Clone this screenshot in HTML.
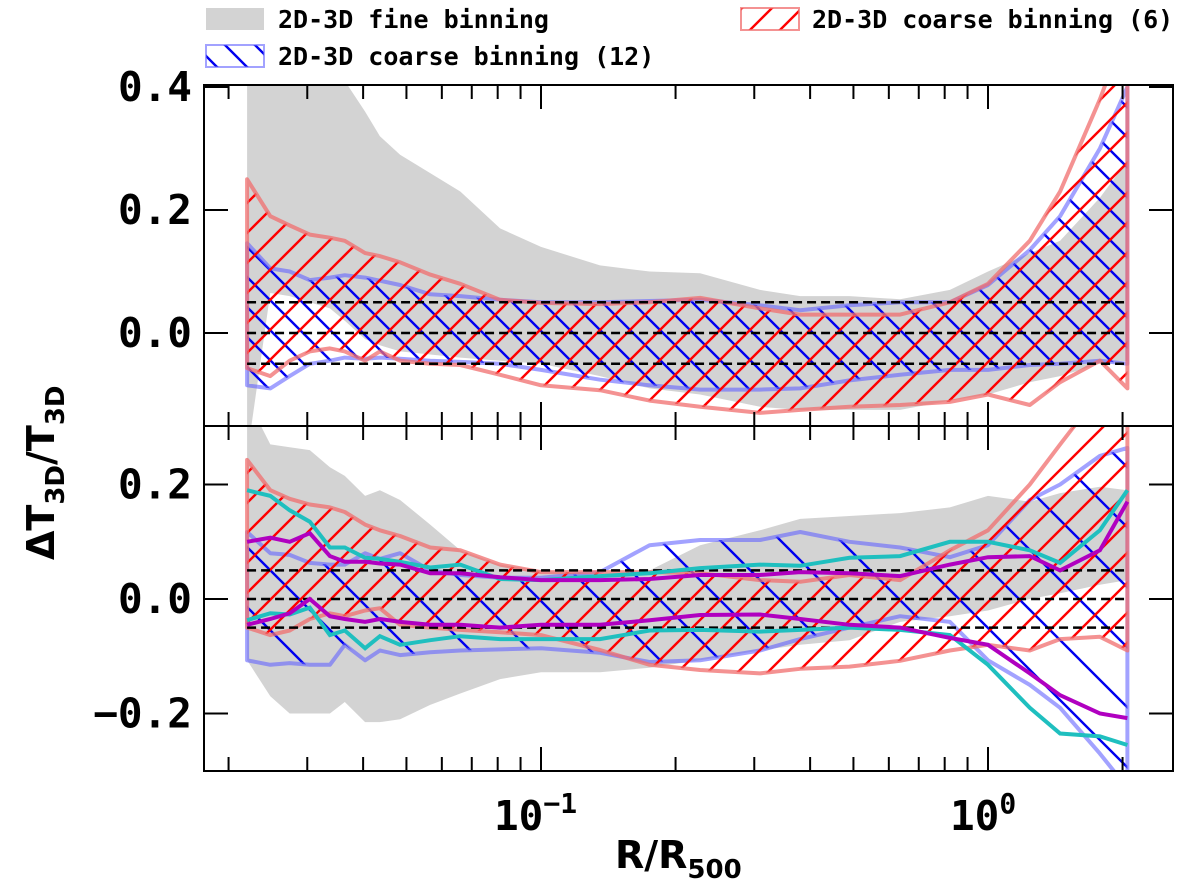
<!DOCTYPE html>
<html><head><meta charset="utf-8"><style>
body{margin:0;background:#fff;}
svg text{font-family:"DejaVu Sans Mono","Liberation Mono",monospace;font-weight:bold;}
</style></head><body>
<svg id="chart" width="1200" height="887" viewBox="0 0 1200 887" xmlns="http://www.w3.org/2000/svg">
<defs>
<pattern id="hr" patternUnits="userSpaceOnUse" width="30" height="30"><path d="M-5,5 L5,-5 M0,30 L30,0 M25,35 L35,25" stroke="#ff0000" stroke-width="2.4"/></pattern>
<pattern id="hb" patternUnits="userSpaceOnUse" width="30" height="30"><path d="M-5,25 L5,35 M0,0 L30,30 M25,-5 L35,5" stroke="#0000ee" stroke-width="2.4"/></pattern>
<pattern id="hb2" patternUnits="userSpaceOnUse" width="60" height="60"><path d="M-5,55 L5,65 M0,0 L60,60 M55,-5 L65,5" stroke="#0000ee" stroke-width="2.4"/></pattern>
<clipPath id="cTop"><rect x="204" y="85" width="969" height="341"/></clipPath>
<clipPath id="cBot"><rect x="204" y="427" width="969" height="344"/></clipPath>
</defs>
<g id="layer"></g>
</svg>
<script>
const R = [0.022,0.0248,0.0274,0.0304,0.0337,0.0364,0.0404,0.0436,0.0484,0.0565,0.066,0.081,0.1,0.1355,0.175,0.227,0.309,0.38,0.49,0.636,0.822,1.0,1.24,1.45,1.78,2.05];
// top panel
const fineTopUp = [0.45,0.45,0.45,0.45,0.45,0.41,0.36,0.32,0.29,0.26,0.23,0.17,0.14,0.11,0.10,0.097,0.07,0.06,0.06,0.055,0.07,0.1,0.13,0.15,0.22,0.28];
const fineTopLo = [-0.2,0.065,0.06,0.05,0.04,0.02,-0.01,-0.02,-0.03,-0.035,-0.04,-0.045,-0.05,-0.07,-0.09,-0.1,-0.12,-0.125,-0.125,-0.125,-0.11,-0.1,-0.08,-0.07,-0.05,-0.045];
const c6TopUp = [0.25,0.19,0.175,0.16,0.155,0.15,0.13,0.125,0.115,0.095,0.08,0.054,0.049,0.047,0.05,0.057,0.04,0.03,0.03,0.03,0.05,0.08,0.15,0.23,0.38,0.5];
const c6TopLo = [-0.057,-0.07,-0.045,-0.03,-0.025,-0.03,-0.045,-0.03,-0.045,-0.05,-0.052,-0.068,-0.085,-0.093,-0.11,-0.12,-0.13,-0.125,-0.12,-0.117,-0.112,-0.1,-0.117,-0.08,-0.045,-0.09];
const c12TopUp = [0.146,0.105,0.1,0.086,0.09,0.094,0.09,0.085,0.078,0.063,0.06,0.054,0.05,0.05,0.052,0.054,0.045,0.037,0.045,0.05,0.05,0.078,0.135,0.19,0.3,0.4];
const c12TopLo = [-0.085,-0.09,-0.07,-0.05,-0.045,-0.04,-0.042,-0.04,-0.042,-0.045,-0.047,-0.05,-0.06,-0.076,-0.085,-0.092,-0.092,-0.09,-0.077,-0.068,-0.06,-0.06,-0.052,-0.05,-0.045,-0.05];
// bottom panel
const fineBotUp = [0.35,0.27,0.265,0.26,0.23,0.215,0.18,0.19,0.173,0.13,0.085,0.06,0.05,0.042,0.05,0.094,0.12,0.14,0.145,0.15,0.16,0.18,0.17,0.185,0.196,0.19];
const fineBotLo = [-0.107,-0.17,-0.2,-0.2,-0.2,-0.18,-0.215,-0.215,-0.21,-0.185,-0.165,-0.14,-0.128,-0.128,-0.12,-0.107,-0.09,-0.08,-0.072,-0.04,-0.03,-0.02,0.0,0.01,0.025,0.033];
const c6BotUp = [0.243,0.19,0.175,0.165,0.16,0.152,0.13,0.12,0.11,0.09,0.085,0.06,0.047,0.047,0.047,0.045,0.033,0.03,0.042,0.033,0.085,0.12,0.2,0.27,0.36,0.42];
const c6BotLo = [-0.05,-0.063,-0.055,-0.035,-0.025,-0.03,-0.02,-0.016,-0.045,-0.05,-0.054,-0.058,-0.063,-0.089,-0.115,-0.124,-0.13,-0.122,-0.118,-0.108,-0.09,-0.08,-0.09,-0.07,-0.066,-0.09];
const c12BotUp = [0.117,0.08,0.077,0.063,0.06,0.06,0.08,0.07,0.08,0.05,0.042,0.037,0.037,0.047,0.094,0.103,0.103,0.117,0.1,0.09,0.073,0.094,0.173,0.2,0.25,0.264];
const c12BotLo = [-0.107,-0.115,-0.112,-0.115,-0.115,-0.08,-0.107,-0.09,-0.098,-0.093,-0.09,-0.088,-0.086,-0.094,-0.11,-0.107,-0.09,-0.07,-0.05,-0.03,-0.04,-0.107,-0.15,-0.19,-0.27,-0.33];
const cyanUp = [0.19,0.18,0.155,0.135,0.09,0.09,0.072,0.07,0.065,0.055,0.06,0.035,0.033,0.04,0.045,0.054,0.06,0.058,0.072,0.075,0.1,0.1,0.085,0.063,0.12,0.19];
const cyanLo = [-0.037,-0.025,-0.027,-0.015,-0.063,-0.055,-0.086,-0.065,-0.08,-0.072,-0.065,-0.07,-0.07,-0.07,-0.055,-0.054,-0.057,-0.054,-0.05,-0.054,-0.063,-0.115,-0.19,-0.235,-0.24,-0.255];
const magUp = [0.1,0.107,0.1,0.115,0.075,0.065,0.065,0.062,0.06,0.045,0.045,0.038,0.033,0.033,0.035,0.042,0.042,0.047,0.045,0.04,0.06,0.073,0.075,0.05,0.085,0.17];
const magLo = [-0.045,-0.035,-0.025,0.0,-0.03,-0.035,-0.04,-0.035,-0.04,-0.045,-0.045,-0.05,-0.045,-0.045,-0.037,-0.028,-0.027,-0.035,-0.045,-0.05,-0.068,-0.08,-0.13,-0.168,-0.2,-0.208];
const refLines = [0.05,0,-0.05];
const topTicks = [0.4,0.2,0.0];
const topTickLabels = ["0.4","0.2","0.0"];
const botTicks = [0.2,0.0,-0.2];
const botTickLabels = ["0.2","0.0","\u22120.2"];

const X0=204, X1=1173;
const xs = r => 988 + 447*Math.log10(r);
const yTop = v => 333 - v*615;
const yBot = v => 599 - v*572.5;
const NS='http://www.w3.org/2000/svg';
const layer=document.getElementById('layer');
function mk(tag, attrs, parent){const e=document.createElementNS(NS,tag);for(const k in attrs)e.setAttribute(k,attrs[k]);(parent||layer).appendChild(e);return e;}
function pts(arr, ys){return R.map((r,i)=>xs(r).toFixed(1)+','+ys(arr[i]).toFixed(1));}
function band(up, lo, ys, g, fill, stroke, sw, name){
  const p = pts(up,ys).concat(pts(lo,ys).reverse()).join(' ');
  const e = mk('polygon',{points:p,fill:fill,stroke:stroke,'stroke-width':sw,'stroke-linejoin':'round'},g);
  
  
}
function line(arr, ys, g, color, name){
  const e = mk('polyline',{points:pts(arr,ys).join(' '),fill:'none',stroke:color,'stroke-width':4},g);
  
  
}
function panel(ys, clip, fUp, fLo, bUp, bLo, rUp, rLo, hb, name){
  const g = mk('g',{'clip-path':'url(#'+clip+')'});
  
  
  band(fUp,fLo,ys,g,'#d3d3d3','none',0,'fine-binning-band');
  band(bUp,bLo,ys,g,'url(#'+hb+')','rgba(100,100,255,0.6)',4,'coarse-12-band');
  band(rUp,rLo,ys,g,'url(#hr)','rgba(240,110,110,0.75)',4,'coarse-6-band');
  refLines.forEach(v=>{
    const e=mk('line',{x1:xs(R[0]),x2:xs(R[R.length-1]),y1:ys(v),y2:ys(v),stroke:'#000','stroke-width':2.5,'stroke-dasharray':'9,5'},g);
    
    
  });
  return g;
}
panel(yTop,'cTop',fineTopUp,fineTopLo,c12TopUp,c12TopLo,c6TopUp,c6TopLo,'hb','top-panel');
const gb = panel(yBot,'cBot',fineBotUp,fineBotLo,c12BotUp,c12BotLo,c6BotUp,c6BotLo,'hb2','bottom-panel');
line(cyanUp,yBot,gb,'#1fbfbf','cyan-upper-line');
line(cyanLo,yBot,gb,'#1fbfbf','cyan-lower-line');
line(magUp,yBot,gb,'#b000c0','magenta-upper-line');
line(magLo,yBot,gb,'#b000c0','magenta-lower-line');

[[85,426,'top-frame'],[426,771,'bottom-frame']].forEach(f=>{
  const e=mk('rect',{x:X0,y:f[0],width:X1-X0,height:f[1]-f[0],fill:'none',stroke:'#000','stroke-width':2});
  
  
});
const minor=[];
[0.01,0.1,1].forEach(d=>{for(let k=2;k<=9;k++){minor.push(d*k);}});
[[85,426],[426,771]].forEach(([t,b])=>{
  minor.forEach(m=>{const x=xs(m); if(x<X0||x>X1)return;
    mk('line',{x1:x,x2:x,y1:b,y2:b-14,stroke:'#000','stroke-width':2});
    mk('line',{x1:x,x2:x,y1:t,y2:t+14,stroke:'#000','stroke-width':2});});
  [0.1,1].forEach(m=>{const x=xs(m);
    mk('line',{x1:x,x2:x,y1:b,y2:b-24,stroke:'#000','stroke-width':2});
    mk('line',{x1:x,x2:x,y1:t,y2:t+24,stroke:'#000','stroke-width':2});});
});
function yt(ticks, labels, ys){
  ticks.forEach((v,i)=>{const y=ys(v);
    mk('line',{x1:X0,x2:X0+24,y1:y,y2:y,stroke:'#000','stroke-width':2});
    mk('line',{x1:X1,x2:X1-24,y1:y,y2:y,stroke:'#000','stroke-width':2});
    const t=mk('text',{x:192,y:y+14,'text-anchor':'end','font-size':41});
    t.textContent=labels[i];
    
    
  });
}
yt(topTicks,topTickLabels,yTop);
yt(botTicks,botTickLabels,yBot);
</script>
<svg style="position:absolute;left:0;top:0" width="1200" height="887">
<text x="494" y="830" font-size="41" style="font-family:'DejaVu Sans Mono',monospace;font-weight:bold">10<tspan dy="-17" font-size="28">−1</tspan></text>
<text x="950" y="830" font-size="41" style="font-family:'DejaVu Sans Mono',monospace;font-weight:bold">10<tspan dy="-17" font-size="28">0</tspan></text>
<text x="615" y="868" font-size="38" style="font-family:'DejaVu Sans',sans-serif;font-weight:bold">R/R<tspan dy="10" font-size="26">500</tspan></text>
<text transform="translate(54,560) rotate(-90)" font-size="38" style="font-family:'DejaVu Sans',sans-serif;font-weight:bold">ΔT<tspan dy="10" font-size="26">3D</tspan><tspan dy="-10">/T</tspan><tspan dy="10" font-size="26">3D</tspan></text>
<g style="font-family:'DejaVu Sans Mono',monospace;font-weight:bold" font-size="25">
<rect x="206" y="8" width="58" height="22" fill="#d3d3d3"/>
<text x="278" y="28">2D-3D fine binning</text>
<rect x="206" y="45" width="58" height="22" fill="url(#hb)" stroke="rgba(100,100,255,0.6)" stroke-width="2"/>
<text x="278" y="65">2D-3D coarse binning (12)</text>
<rect x="741" y="8" width="58" height="22" fill="url(#hr)" stroke="rgba(240,110,110,0.75)" stroke-width="2"/>
<text x="812" y="28">2D-3D coarse binning (6)</text>
</g>
</svg>
</body></html>
